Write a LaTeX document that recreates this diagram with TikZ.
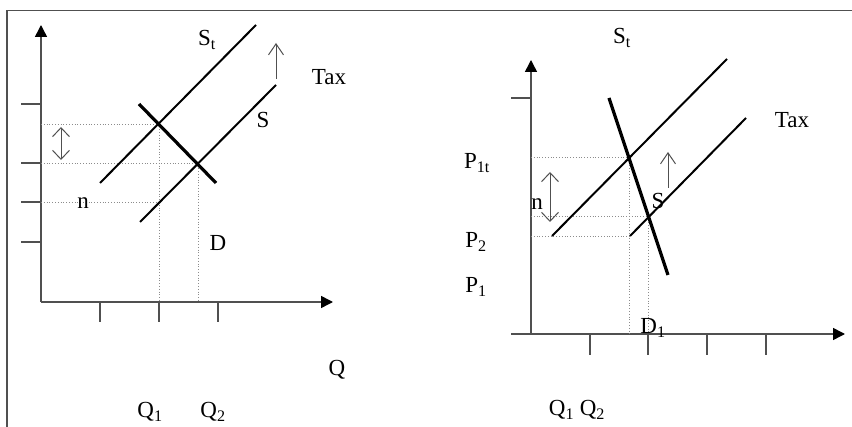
\documentclass[tikz,border=0pt]{standalone}
\usepackage{fontspec}
\setmainfont{Liberation Serif}
\usetikzlibrary{arrows.meta}
\definecolor{axisgray}{RGB}{80,80,80}
\definecolor{guidegray}{RGB}{140,140,140}

\begin{document}
\begin{tikzpicture}[
  x=1pt, y=-1pt,
  axis/.style={draw=axisgray, line width=1.5pt, -{Triangle[length=12pt,width=12pt,color=black]}},
  tick/.style={draw=axisgray, line width=1.5pt},
  supply/.style={line width=2pt},
  demand/.style={line width=3.2pt},
  guide/.style={draw=guidegray, line width=0.8pt, dotted},
  gapmark/.style={draw=axisgray, line width=1pt,
    {Straight Barb[length=9pt,width=17pt]}-{Straight Barb[length=9pt,width=17pt]}},
  taxup/.style={draw=axisgray, line width=1pt, -{Straight Barb[length=11pt,width=15pt]}},
  lbl/.style={font=\fontsize{23}{25}\selectfont, inner sep=0pt}
]
\useasboundingbox (0,0) rectangle (852,427);
\draw[axisgray, line width=1.2pt] (7,427) -- (7,10.5) -- (852,10.5);

% left panel
\coordinate (oL) at (41,302);
\coordinate (yL) at (41,25);
\coordinate (xL) at (333,302);
\draw[axis] (oL) -- (yL);
\draw[axis] (oL) -- (xL);
\foreach \y in {104,163,202,242}
  \draw[tick] (21,\y) -- (41,\y);
\foreach \x in {100,159,218}
  \draw[tick] (\x,302) -- (\x,322);

\coordinate (stLa) at (100,183);
\coordinate (stLb) at (256,25);
\coordinate (sLa) at (140,222);
\coordinate (sLb) at (276,85);
\coordinate (dLa) at (139,104);
\coordinate (dLb) at (216,183);
\coordinate (eqtL) at (159,124);
\coordinate (eqL) at (198,163);

\draw[guide] (41,124) -- (eqtL) -- (159,302);
\draw[guide] (41,163) -- (eqL) -- (198,302);
\draw[guide] (41,202) -- (159,202);

\draw[supply] (stLa) -- (stLb);
\draw[supply] (sLa) -- (sLb);
\draw[demand] (dLa) -- (dLb);

\draw[gapmark] (61,127) -- (61,160);
\draw[taxup] (276,79) -- (276,43);

\node[lbl] (stL) at (207,40) {S\textsubscript{t}};
\node[lbl] (taxL) at (329,77) {Tax};
\node[lbl] (sL) at (263,120) {S};
\node[lbl] (dL) at (218,243) {D};
\node[lbl] (nL) at (83,203) {n};
\node[lbl] (qL) at (337,370) {Q};
\node[lbl] (q1L) at (150,412) {Q\textsubscript{1}};
\node[lbl] (q2L) at (213,412) {Q\textsubscript{2}};

% right panel
\coordinate (oR) at (531,334);
\coordinate (yR) at (531,60);
\coordinate (xR) at (845,334);
\draw[axis] (oR) -- (yR);
\draw[axis] (511,334) -- (xR);
\draw[tick] (511,98) -- (531,98);
\foreach \x in {590,648,707,766}
  \draw[tick] (\x,334) -- (\x,355);

\coordinate (stRa) at (552,236);
\coordinate (stRb) at (727,59);
\coordinate (sRa) at (630,236);
\coordinate (sRb) at (746,118);
\coordinate (dRa) at (609,98);
\coordinate (dRb) at (668,275);
\coordinate (eqtR) at (629,157);
\coordinate (eqR) at (648,216);

\draw[guide] (531,157) -- (eqtR) -- (629,334);
\draw[guide] (531,216) -- (eqR) -- (648,334);
\draw[guide] (531,236) -- (sRa);

\draw[supply] (stRa) -- (stRb);
\draw[supply] (sRa) -- (sRb);
\draw[demand] (dRa) -- (dRb);

\draw[gapmark] (550,172) -- (550,222);
\draw[taxup] (668,188) -- (668,152);

\node[lbl] (stR) at (622,38) {S\textsubscript{t}};
\node[lbl] (taxR) at (792,120) {Tax};
\node[lbl] (p1tR) at (477,163) {P\textsubscript{1t}};
\node[lbl] (p2R) at (476,242) {P\textsubscript{2}};
\node[lbl] (p1R) at (476,287) {P\textsubscript{1}};
\node[lbl] (nR) at (537,204) {n};
\node[lbl] (sR) at (658,201) {S};
\node[lbl] (dR) at (653,328) {D\textsubscript{1}};
\node[lbl] (qqR) at (577,410) {Q\textsubscript{1} Q\textsubscript{2}};
\end{tikzpicture}
\end{document}
